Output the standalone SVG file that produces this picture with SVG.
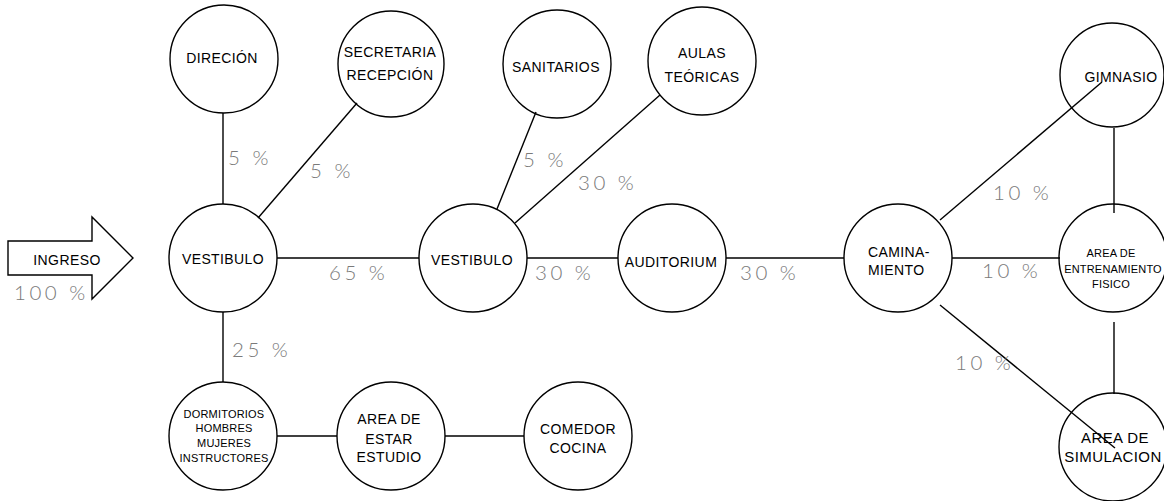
<svg xmlns="http://www.w3.org/2000/svg" width="1164" height="501" viewBox="0 0 1164 501">
<style>
.n{fill:none;stroke:#000;stroke-width:1.4}
.t{font-family:"Liberation Sans",Arial,sans-serif;font-size:14px;fill:#000;text-anchor:middle;letter-spacing:0.4px}
.s{font-size:11px;letter-spacing:0.2px}
.p{font-family:Lato,"Open Sans",sans-serif;font-weight:300;font-size:20.5px;fill:#7a7a7a;letter-spacing:3.5px}
#connectors line{stroke:#000;stroke-width:1.4}
</style>
<rect width="1164" height="501" fill="#fff"/>
<g id="connectors">
<line x1="223" y1="113" x2="223" y2="204"/>
<line x1="357" y1="103" x2="258" y2="218"/>
<line x1="223" y1="312" x2="223" y2="382"/>
<line x1="277" y1="436" x2="337" y2="436"/>
<line x1="445" y1="436" x2="524" y2="436"/>
<line x1="277" y1="258" x2="419" y2="258"/>
<line x1="536" y1="112" x2="497" y2="209"/>
<line x1="660" y1="95" x2="515" y2="223"/>
<line x1="527" y1="258" x2="618" y2="258"/>
<line x1="726" y1="258" x2="844" y2="258"/>
<line x1="952" y1="258" x2="1060" y2="258"/>
<line x1="940" y1="220" x2="1102" y2="82"/>
<line x1="940" y1="305" x2="1115" y2="448"/>
<line x1="1114" y1="128" x2="1114" y2="213"/>
<line x1="1114" y1="322" x2="1114" y2="394"/>
</g>
<g id="ingreso">
<polygon points="8,241 92,241 92,217 133,258 92,299 92,275 8,275" fill="#fff" stroke="#000" stroke-width="1.4"/>
<text class="t" x="67" y="265">INGRESO</text>
</g>
<g id="vestibulo1"><circle class="n" cx="223" cy="258" r="54"/><text class="t" x="223" y="264">VESTIBULO</text></g>
<g id="direccion"><circle class="n" cx="224" cy="59" r="54"/><text class="t" x="222" y="63">DIRECIÓN</text></g>
<g id="secretaria"><circle class="n" cx="391" cy="64" r="53"/><text class="t" x="390" y="57">SECRETARIA</text><text class="t" x="390" y="80">RECEPCIÓN</text></g>
<g id="vestibulo2"><circle class="n" cx="473" cy="258" r="54"/><text class="t" x="472" y="265">VESTIBULO</text></g>
<g id="sanitarios"><circle class="n" cx="557" cy="64" r="54"/><text class="t" x="556" y="72">SANITARIOS</text></g>
<g id="aulas"><circle class="n" cx="702" cy="61" r="54"/><text class="t" x="702" y="58">AULAS</text><text class="t" x="702" y="82">TEÓRICAS</text></g>
<g id="auditorium"><circle class="n" cx="672" cy="258" r="54"/><text class="t" x="671" y="267">AUDITORIUM</text></g>
<g id="caminamiento"><circle class="n" cx="898" cy="258" r="54"/><text class="t" x="868" y="257" style="text-anchor:start">CAMINA-</text><text class="t" x="868" y="275" style="text-anchor:start">MIENTO</text></g>
<g id="gimnasio"><circle class="n" cx="1112" cy="75" r="52"/><text class="t" x="1121" y="82">GIMNASIO</text></g>
<g id="entrenamiento"><circle class="n" cx="1113" cy="258" r="54"/><text class="t s" x="1111" y="257">AREA DE</text><text class="t s" x="1113" y="273">ENTRENAMIENTO</text><text class="t s" x="1111" y="288">FISICO</text></g>
<g id="simulacion"><circle class="n" cx="1113" cy="447" r="54"/><text class="t" x="1115" y="443" style="font-size:15px">AREA DE</text><text class="t" x="1113" y="462" style="font-size:15px">SIMULACION</text></g>
<g id="dormitorios"><circle class="n" cx="223" cy="436" r="54"/><text class="t s" x="224" y="418">DORMITORIOS</text><text class="t s" x="224" y="432">HOMBRES</text><text class="t s" x="224" y="447">MUJERES</text><text class="t s" x="224" y="462">INSTRUCTORES</text></g>
<g id="estar"><circle class="n" cx="391" cy="436" r="54"/><text class="t" x="389" y="424">AREA DE</text><text class="t" x="389" y="444">ESTAR</text><text class="t" x="389" y="462">ESTUDIO</text></g>
<g id="comedor"><circle class="n" cx="578" cy="436" r="54"/><text class="t" x="578" y="434">COMEDOR</text><text class="t" x="578" y="453">COCINA</text></g>
<g id="percentages">
<text class="p" x="14" y="300">100 %</text>
<text class="p" x="228" y="165">5 %</text>
<text class="p" x="310" y="178">5 %</text>
<text class="p" x="329" y="280">65 %</text>
<text class="p" x="535" y="280">30 %</text>
<text class="p" x="740" y="280">30 %</text>
<text class="p" x="523" y="167">5 %</text>
<text class="p" x="578" y="190">30 %</text>
<text class="p" x="993" y="200">10 %</text>
<text class="p" x="982" y="278">10 %</text>
<text class="p" x="955" y="370">10 %</text>
<text class="p" x="232" y="357">25 %</text>
</g>
</svg>
